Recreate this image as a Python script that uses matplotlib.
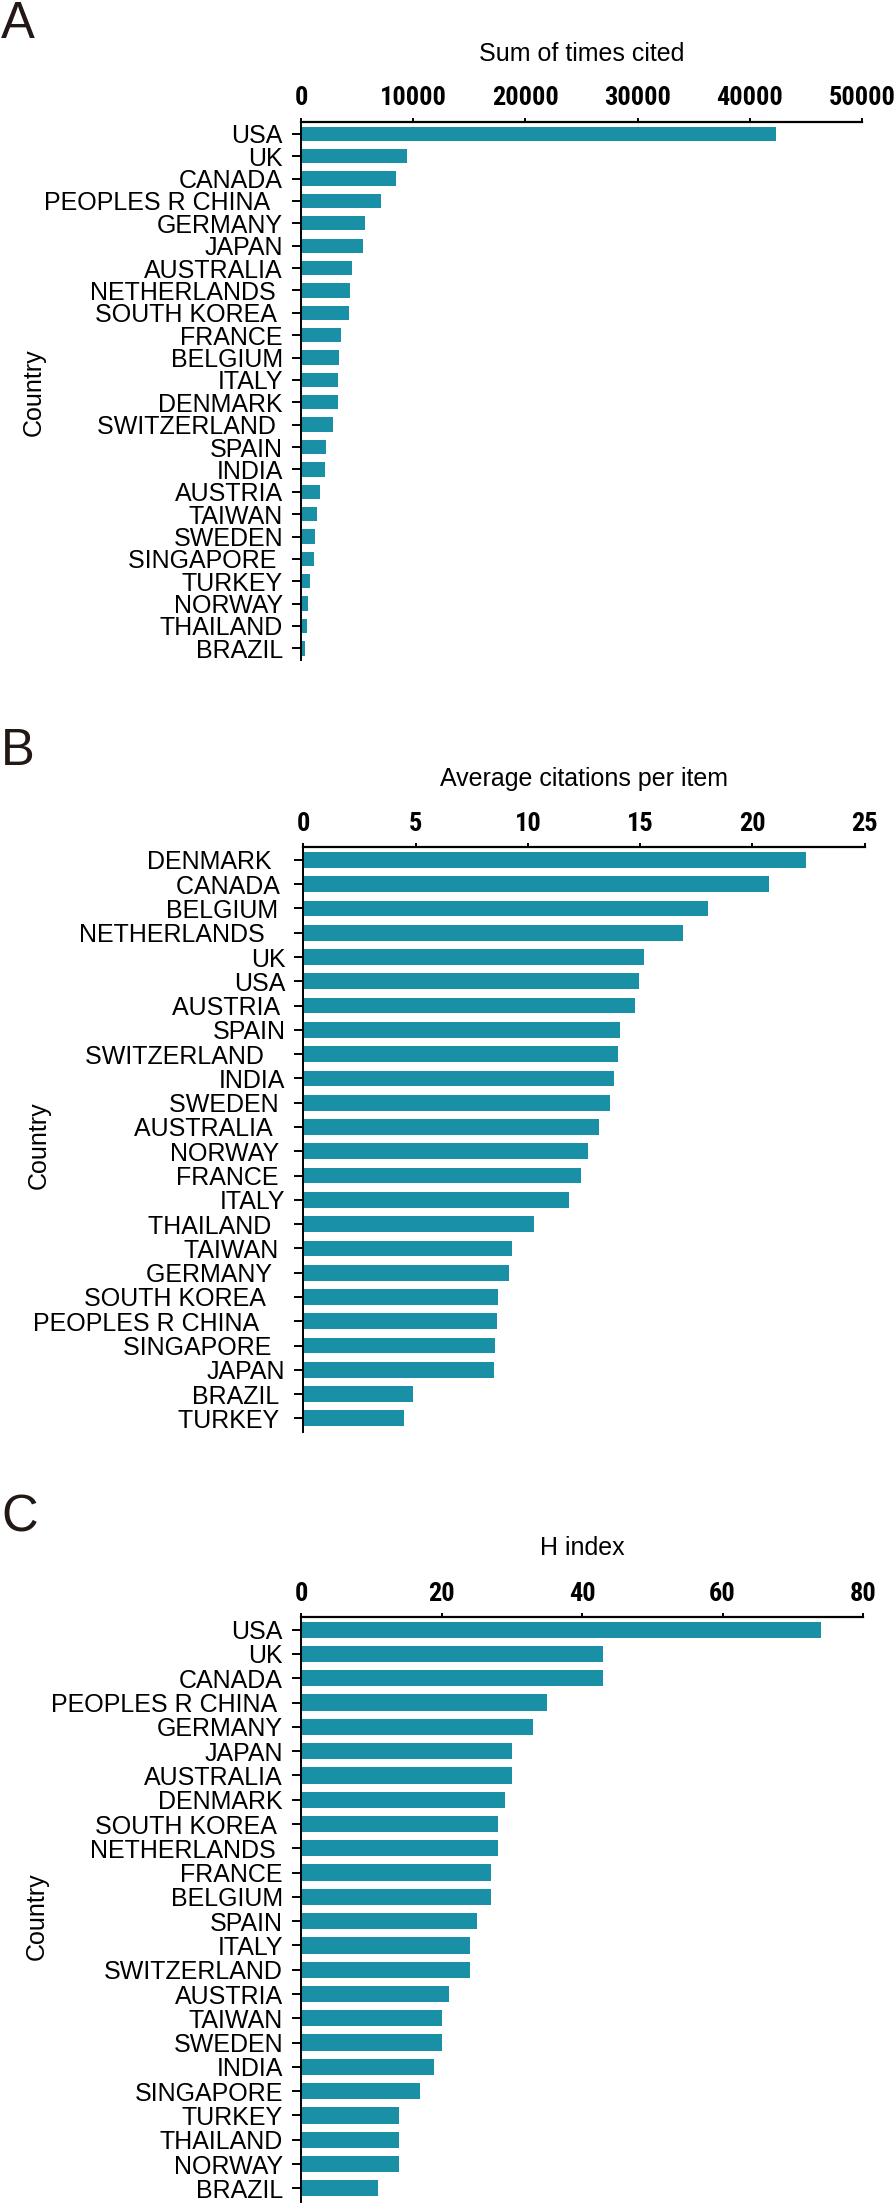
import matplotlib
matplotlib.use("Agg")
import matplotlib.pyplot as plt

LABEL_FONT = ["Liberation Sans", "DejaVu Sans"]
NUM_FONT = ["Roboto Condensed", "Liberation Sans"]
BAR = "#1990a6"

# A: sum of times cited
countries_a = ["USA", "UK", "CANADA", "PEOPLES R CHINA  ", "GERMANY", "JAPAN",
               "AUSTRALIA", "NETHERLANDS ", "SOUTH KOREA ", "FRANCE", "BELGIUM",
               "ITALY", "DENMARK", "SWITZERLAND ", "SPAIN", "INDIA", "AUSTRIA",
               "TAIWAN", "SWEDEN", "SINGAPORE ", "TURKEY", "NORWAY", "THAILAND", "BRAZIL"]
cited = [42350, 9430, 8510, 7140, 5660, 5500, 4590, 4330, 4310, 3570, 3360,
         3330, 3260, 2850, 2240, 2140, 1680, 1430, 1220, 1170, 760, 610, 560, 360]

# B: average citations per item
countries_b = ["DENMARK  ", "CANADA ", "BELGIUM ", "NETHERLANDS   ", "UK", "USA",
               "AUSTRIA ", "SPAIN", "SWITZERLAND   ", "INDIA", "SWEDEN ", "AUSTRALIA  ",
               "NORWAY ", "FRANCE ", "ITALY", "THAILAND  ", "TAIWAN ", "GERMANY  ",
               "SOUTH KOREA   ", "PEOPLES R CHINA    ", "SINGAPORE  ", "JAPAN", "BRAZIL ", "TURKEY "]
avg_cit = [22.38, 20.72, 18.02, 16.9, 15.17, 14.97, 14.77, 14.1, 14.0, 13.85,
           13.65, 13.16, 12.68, 12.37, 11.81, 10.29, 9.29, 9.16, 8.68, 8.63,
           8.55, 8.48, 4.89, 4.48]

# C: H index
countries_c = ["USA", "UK", "CANADA", "PEOPLES R CHINA ", "GERMANY", "JAPAN",
               "AUSTRALIA", "DENMARK", "SOUTH KOREA ", "NETHERLANDS ", "FRANCE",
               "BELGIUM", "SPAIN", "ITALY", "SWITZERLAND", "AUSTRIA", "TAIWAN",
               "SWEDEN", "INDIA", "SINGAPORE", "TURKEY", "THAILAND", "NORWAY", "BRAZIL"]
h_index = [74, 43, 43, 35, 33, 30, 30, 29, 28, 28, 27, 27, 25, 24, 24, 21, 20,
           20, 19, 17, 14, 14, 14, 11]

W, H = 896, 2205
fig = plt.figure(figsize=(W / 100, H / 100), dpi=100)


def px_axes(left, top, right, bottom):
    return fig.add_axes([left / W, 1 - bottom / H, (right - left) / W, (bottom - top) / H])


def panel(box, labels, vals, xmax, step, title, letter, ylim, barh,
          title_base, letter_base, country_xy):
    left, top, right, bottom = box
    ax = px_axes(left, top, right, bottom)
    y = list(range(len(labels)))
    ax.barh(y, vals, height=barh, color=BAR, edgecolor="none")
    ax.set_xlim(0, xmax)
    ax.set_ylim(*ylim)
    ax.set_yticks(y)
    ax.set_yticklabels(labels, fontsize=18, family=LABEL_FONT)
    ax.set_xticks(range(0, xmax + 1, step))
    ax.xaxis.tick_top()
    for t in ax.get_xticklabels():
        t.set_fontsize(19)
        t.set_family(NUM_FONT)
        t.set_fontweight("bold")
    ax.tick_params(axis="y", length=6.5, width=1.4, pad=6.5)
    ax.tick_params(axis="x", length=3, width=1.4, pad=5)
    for s in ["right", "bottom"]:
        ax.spines[s].set_visible(False)
    ax.spines["top"].set_linewidth(1.6)
    ax.spines["left"].set_linewidth(1.4)

    fig.text((left + right) / 2 / W, 1 - title_base / H, title, ha="center", va="baseline",
             fontsize=18, family=LABEL_FONT)
    fig.text(1 / W, 1 - letter_base / H, letter, ha="left", va="baseline", fontsize=36.5,
             family=LABEL_FONT, color="#231815")
    fig.text(country_xy[0] / W, 1 - country_xy[1] / H, "Country", rotation=90, ha="center",
             va="center", fontsize=18, family=LABEL_FONT)
    return ax


ax_a = panel((301, 121.5, 862, 660), countries_a, cited, 50000, 10000,
             "Sum of times cited", "A", (23.52, -0.55), 0.64, 61, 38, (34, 392))

ax_b = panel((303.4, 847.3, 864.6, 1431.7), countries_b, avg_cit, 25, 5,
             "Average citations per item", "B", (23.55, -0.52), 0.65, 786, 765, (39, 1145))

ax_c = panel((301, 1616.7, 863, 2201.7), countries_c, h_index, 80, 20,
             "H index", "C", (23.55, -0.535), 0.67, 1555, 1532, (37, 1916))

fig.savefig("out.png", dpi=100)
